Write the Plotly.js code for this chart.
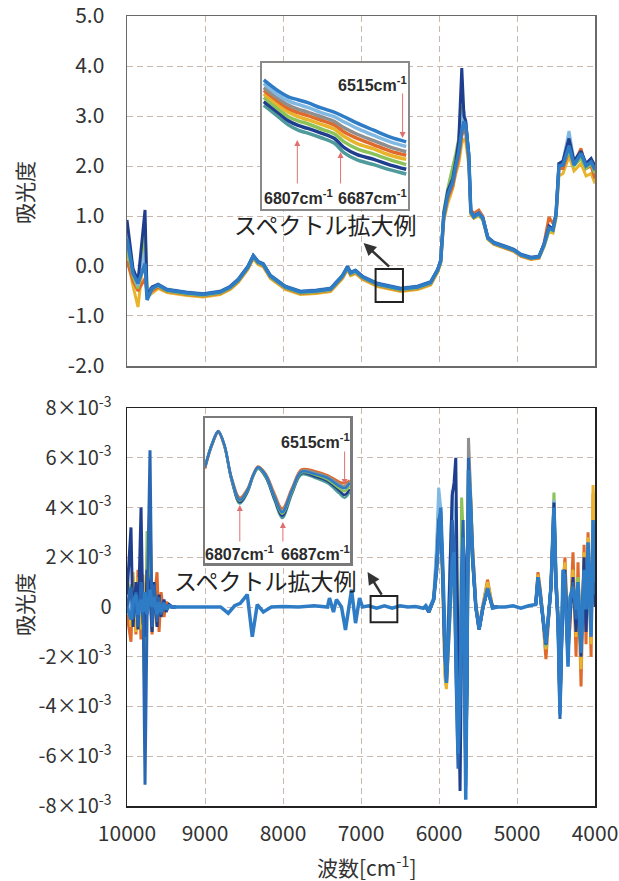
<!DOCTYPE html>
<html><head><meta charset="utf-8">
<script src="https://cdn.plot.ly/plotly-3.0.1.min.js"></script>
<style>html,body{margin:0;padding:0;background:#fff;} #chart{width:619px;height:881px;}</style>
</head><body><div id="chart"></div>
<script>
// ---------- TOP: absorbance spectra ----------
const X_TOP = [10000, 9923, 9859, 9769, 9743, 9679, 9602, 9486, 9229, 9023,
  8805, 8676, 8574, 8450, 8381, 8320, 8252, 8162, 7970, 7777,
  7580, 7391, 7353, 7237, 7173, 7134, 7070, 6980, 6788, 6492,
  6273, 6107, 6068, 6017, 5978, 5939, 5888, 5824, 5785, 5747,
  5708, 5680, 5657, 5618, 5592, 5554, 5490, 5438, 5374, 5297,
  5040, 4950, 4821, 4719, 4654, 4590, 4539, 4500, 4462, 4410,
  4333, 4269, 4179, 4115, 4050, 4000];
const TOP_BLUE = [0.55, -0.15, -0.35, 0.05, -0.68, -0.45, -0.38, -0.48, -0.54, -0.57,
  -0.52, -0.42, -0.28, -0.02, 0.20, 0.08, 0.03, -0.20, -0.42, -0.52,
  -0.50, -0.46, -0.40, -0.20, -0.02, -0.14, -0.10, -0.22, -0.36, -0.46,
  -0.42, -0.33, -0.22, -0.08, 0.10, 1.00, 1.42, 1.68, 2.00, 2.28,
  2.70, 2.90, 2.80, 2.20, 1.08, 0.98, 1.05, 0.95, 0.56, 0.46,
  0.32, 0.22, 0.16, 0.18, 0.42, 0.76, 0.72, 1.02, 2.00, 2.02,
  2.40, 2.02, 2.25, 2.00, 2.08, 1.92];
const TOP_NAVY = [0.92, -0.05, -0.30, 1.12, -0.60, -0.42, -0.37, -0.47, -0.53, -0.56,
  -0.51, -0.41, -0.27, -0.01, 0.21, 0.09, 0.04, -0.19, -0.41, -0.51,
  -0.49, -0.45, -0.39, -0.19, -0.01, -0.13, -0.09, -0.21, -0.35, -0.45,
  -0.41, -0.32, -0.21, -0.07, 0.12, 1.05, 1.50, 1.75, 2.10, 2.50,
  3.96, 3.00, 2.90, 2.25, 1.10, 1.00, 1.06, 0.96, 0.57, 0.47,
  0.33, 0.23, 0.17, 0.19, 0.44, 0.80, 0.74, 1.05, 2.05, 2.10,
  2.55, 2.10, 2.30, 2.05, 2.15, 2.00];
const TOP_ORANGE = [0.10, -0.30, -0.50, -0.25, -0.55, -0.50, -0.42, -0.51, -0.57, -0.60,
  -0.55, -0.45, -0.31, -0.05, 0.17, 0.05, 0.00, -0.23, -0.45, -0.55,
  -0.53, -0.49, -0.43, -0.23, -0.05, -0.17, -0.13, -0.25, -0.39, -0.49,
  -0.45, -0.36, -0.25, -0.11, 0.07, 0.95, 1.35, 1.60, 1.90, 2.15,
  2.60, 2.75, 2.65, 2.10, 1.12, 1.05, 1.12, 1.00, 0.55, 0.44,
  0.30, 0.20, 0.14, 0.16, 0.45, 0.98, 0.85, 1.00, 1.95, 1.95,
  2.30, 2.05, 2.35, 1.95, 2.00, 1.75];
const TOP_YELLOW = [0.20, -0.40, -0.82, 0.45, -0.62, -0.55, -0.45, -0.53, -0.59, -0.62,
  -0.57, -0.47, -0.33, -0.07, 0.15, 0.03, -0.02, -0.25, -0.47, -0.57,
  -0.55, -0.51, -0.45, -0.25, -0.07, -0.19, -0.15, -0.27, -0.41, -0.51,
  -0.47, -0.38, -0.27, -0.13, 0.05, 0.90, 1.25, 1.55, 1.85, 2.05,
  2.45, 2.55, 2.50, 2.00, 1.02, 0.95, 1.00, 0.92, 0.53, 0.43,
  0.29, 0.19, 0.13, 0.15, 0.38, 0.70, 0.66, 0.95, 1.80, 1.85,
  2.20, 1.90, 2.05, 1.80, 1.85, 1.65];
const TOP_GREEN = [0.35, -0.20, -0.45, 0.80, -0.45, -0.46, -0.40, -0.50, -0.56, -0.59,
  -0.54, -0.44, -0.30, -0.04, 0.18, 0.06, 0.01, -0.22, -0.44, -0.54,
  -0.52, -0.48, -0.42, -0.22, -0.04, -0.16, -0.12, -0.24, -0.38, -0.48,
  -0.44, -0.35, -0.24, -0.10, 0.08, 1.10, 1.55, 1.95, 2.25, 2.55,
  3.20, 2.95, 2.85, 2.20, 1.05, 0.97, 1.03, 0.93, 0.54, 0.45,
  0.31, 0.21, 0.15, 0.17, 0.40, 0.72, 0.70, 1.00, 2.05, 2.05,
  2.30, 2.00, 2.15, 1.95, 2.05, 1.85];
const TOP_LIGHT = [0.70, -0.10, -0.40, 0.30, -0.50, -0.44, -0.36, -0.46, -0.52, -0.55,
  -0.50, -0.40, -0.26, 0.00, 0.22, 0.10, 0.05, -0.18, -0.40, -0.50,
  -0.48, -0.44, -0.38, -0.18, 0.00, -0.12, -0.08, -0.20, -0.34, -0.44,
  -0.40, -0.31, -0.20, -0.06, 0.12, 1.02, 1.45, 1.70, 2.02, 2.35,
  3.00, 3.10, 2.85, 2.25, 1.10, 1.00, 1.07, 0.97, 0.58, 0.48,
  0.34, 0.24, 0.18, 0.20, 0.43, 0.78, 0.74, 1.05, 2.05, 2.10,
  2.70, 2.10, 2.25, 2.05, 2.10, 1.95];

// ---------- TOP inset (6900-6500 cm-1) ----------
const XI1 = [6900, 6860, 6832, 6805, 6778, 6741, 6705, 6677, 6641, 6595, 6549, 6505];
const I1_BLUE   = [-0.329, -0.348, -0.358, -0.363, -0.368, -0.377, -0.384, -0.392, -0.403, -0.415, -0.427, -0.435];
const I1_LIGHT  = [-0.335, -0.355, -0.365, -0.371, -0.376, -0.385, -0.392, -0.401, -0.412, -0.424, -0.435, -0.443];
const I1_GRAY   = [-0.342, -0.361, -0.372, -0.379, -0.384, -0.392, -0.400, -0.411, -0.422, -0.433, -0.444, -0.452];
const I1_ORANGE = [-0.347, -0.366, -0.378, -0.385, -0.390, -0.398, -0.406, -0.418, -0.429, -0.440, -0.451, -0.458];
const I1_YELLOW = [-0.353, -0.372, -0.384, -0.392, -0.397, -0.405, -0.413, -0.426, -0.438, -0.447, -0.458, -0.465];
const I1_GREEN  = [-0.359, -0.379, -0.392, -0.399, -0.404, -0.413, -0.421, -0.435, -0.447, -0.456, -0.466, -0.474];
const I1_NAVY   = [-0.366, -0.385, -0.399, -0.407, -0.412, -0.420, -0.429, -0.445, -0.457, -0.465, -0.475, -0.482];
const I1_TEAL   = [-0.372, -0.392, -0.406, -0.415, -0.420, -0.428, -0.437, -0.454, -0.466, -0.474, -0.483, -0.490];

// ---------- BOTTOM: 2nd-derivative spectra (units of 1e-3) ----------
const XB1 = [10000, 9949, 9923, 9885, 9859, 9820, 9795, 9769, 9743, 9705, 9679, 9653, 9615, 9589, 9563, 9525, 9499, 9460, 9420, 9370];
const XB_MID1 = [9200, 9000, 8800, 8702, 8620, 8548, 8458, 8394, 8330, 8252, 8150, 8000, 7800, 7600, 7430, 7404, 7353, 7315, 7250, 7199, 7160, 7121, 7070, 7019, 6980, 6900, 6800, 6700, 6600, 6500, 6400, 6300, 6200];
const XB2 = [6171, 6130, 6068, 6030, 6004, 5978, 5950, 5925, 5905, 5880, 5850, 5830, 5807, 5785, 5756, 5730, 5710, 5691, 5675, 5657, 5640, 5622, 5600, 5571, 5528, 5486, 5435, 5378, 5314, 5250];
const XB_MID2 = [5150, 5050, 4950, 4850];
const XB3 = [4760, 4731, 4705, 4680, 4629, 4595, 4564, 4526, 4500, 4474, 4449, 4410, 4385, 4346, 4320, 4282, 4243, 4218, 4179, 4140, 4115, 4089, 4050, 4025, 4000];

const BLUE_B1 = [0.0, -0.5, 0.2, 0.5, -0.3, 0.3, -0.2, 0.6, -0.3, 0.7, 0.0, 0.4, -0.3, 0.2, -0.2, 0.15, -0.1, 0.05, 0.0, 0.0];
const BLUE_MID1 = [0.0, 0.02, 0.0, -0.25, 0.05, 0.15, 0.5, -1.2, 0.1, -0.2, 0.0, 0.02, 0.0, 0.05, 0.0, 0.36, -0.2, 0.3, 0.0, -0.92, -0.2, 0.7, -0.65, 0.36, 0.0, 0.05, -0.05, 0.05, -0.05, 0.05, 0.0, 0.02, -0.05];
const BLUE_B2 = [0.05, -0.2, 0.3, 1.5, 3.0, 4.0, 1.5, -1.5, -3.05, -1.5, 0.5, 1.8, 2.2, -1.0, -5.9, -3.0, 1.0, 2.8, -2.0, -7.75, -2.0, 5.5, 4.5, 2.2, 0.0, -0.9, 0.0, 0.76, -0.05, 0.0];
const BLUE_MID2 = [0.0, 0.05, -0.05, 0.05];
const BLUE_B3 = [0.1, 1.2, 0.6, -0.1, -1.45, -0.3, 0.8, 4.0, 1.0, -0.5, -4.3, 1.5, 1.2, -2.4, 0.4, 0.8, -0.1, 1.0, -1.85, 1.5, -0.1, 2.6, -1.2, 3.5, 1.0];

const BLUE2_B1 = [0.0, 0.8, -0.5, 0.6, -0.8, 1.0, 0.5, -7.15, -0.4, 6.3, -0.8, 0.9, -0.6, 0.4, -0.3, 0.2, -0.1, 0.05, 0.0, 0.0];
const BLUE2_B2 = [0.0, -0.1, 0.3, 1.8, 3.5, 3.8, 1.0, -2.0, -3.0, -1.2, 1.0, 3.5, 2.5, -2.5, -6.5, -4.0, 1.5, 3.5, -3.0, -7.2, -2.5, 6.0, 4.0, 2.0, 0.0, -0.9, 0.0, 0.7, 0.0, 0.0];
const BLUE2_B3 = [0.1, 1.1, 0.5, -0.2, -1.5, -0.4, 0.9, 3.8, 0.8, -0.8, -4.5, 1.0, 0.5, -2.0, 0.0, 1.0, -0.5, 0.5, -1.0, 1.0, 0.5, 1.5, -0.5, 2.0, 0.5];

const NAVY_B1 = [0.5, 3.2, -0.8, 1.0, -0.9, 4.0, -0.6, -1.2, 1.5, 0.5, -1.0, 1.0, -0.8, 0.5, -0.4, 0.3, -0.2, 0.1, 0.0, 0.0];
const NAVY_B2 = [0.0, -0.2, 0.3, 1.5, 3.2, 3.5, 1.2, -1.8, -2.8, -1.0, 2.5, 4.5, 5.0, 6.0, -2.0, -7.4, -1.0, 2.8, 2.0, -6.5, -3.0, 5.0, 4.5, 2.0, 0.0, -0.9, 0.0, 0.7, 0.0, 0.0];
const NAVY_B3 = [0.1, 1.2, 0.6, -0.1, -1.5, -0.3, 0.8, 4.2, 0.8, -0.5, -4.0, 0.5, 1.5, -1.5, -0.5, 1.2, -1.0, 0.8, -2.0, 2.0, -1.0, 1.5, 0.0, 2.5, 0.0];

const ORANGE_B1 = [-0.3, -1.4, 1.2, -1.1, 1.5, -1.3, 1.0, -1.2, 2.0, 4.1, -1.1, 0.2, 1.4, -1.0, 0.6, -0.4, 0.2, 0.05, 0.0, 0.0];
const ORANGE_B2 = [0.05, -0.2, 0.35, 2.0, 4.0, 3.5, 0.8, -2.5, -3.2, -1.5, 0.5, 2.0, 1.5, -1.0, -4.5, -2.5, 1.5, 2.0, -1.5, -6.0, -2.0, 5.5, 4.8, 2.5, 0.1, -0.8, 0.1, 1.1, 0.0, 0.0];
const ORANGE_B3 = [0.15, 1.4, 0.8, 0.0, -2.1, -0.6, 0.9, 3.8, 1.2, -0.3, -3.8, 0.8, 2.0, -1.5, -0.8, 2.2, -2.0, 1.8, -3.2, 2.5, -1.5, 3.0, -2.0, 4.5, 4.5];

const YELLOW_B1 = [1.5, -0.8, 1.4, -1.0, 1.2, -0.9, 1.3, -1.0, 0.8, 1.5, -0.6, 1.0, -0.7, 0.4, -0.3, 0.2, -0.1, 0.0, 0.0, 0.0];
const YELLOW_B2 = [0.05, -0.2, 0.35, 2.2, 4.1, 3.3, 0.5, -2.8, -3.3, -1.8, 0.3, 1.5, 1.0, -1.5, -5.0, -3.0, 1.2, 2.5, -1.0, -6.5, -1.5, 6.0, 5.0, 2.5, 0.1, -0.8, 0.1, 1.0, 0.0, 0.0];
const YELLOW_B3 = [0.15, 1.3, 0.7, 0.0, -1.7, -0.4, 0.8, 3.5, 1.0, -0.5, -3.5, 1.0, 1.8, -1.2, 0.0, 1.5, -1.2, 1.2, -2.5, 2.2, -0.5, 2.8, -1.5, 4.9, 3.0];

const GREEN_B1 = [0.3, 0.9, -0.6, 0.8, -0.5, 1.2, -0.5, -3.9, 3.0, 3.0, -0.9, 0.6, -0.5, 0.3, -0.2, 0.1, 0.0, 0.0, 0.0, 0.0];
const GREEN_B2 = [0.0, -0.2, 0.3, 1.8, 3.8, 3.8, 1.2, -1.8, -2.8, -1.0, 1.5, 3.0, 3.5, 0.0, -5.9, -3.5, 4.4, 3.0, -1.5, -6.8, -3.0, 4.5, 3.5, 1.8, 0.0, -0.9, 0.0, 0.7, 0.0, 0.0];
const GREEN_B3 = [0.1, 1.2, 0.6, -0.1, -1.6, -0.4, 1.0, 4.6, 1.2, -0.5, -4.0, 1.2, 1.0, -2.0, 0.2, 0.6, -0.5, 1.2, -1.2, 1.2, 0.0, 2.0, -0.8, 3.0, 1.5];

const LIGHT_B1 = [0.6, -0.3, 0.5, -0.4, 0.6, -0.3, 0.4, -0.8, 0.9, 1.2, -0.4, 0.3, -0.2, 0.1, 0.0, 0.0, 0.0, 0.0, 0.0, 0.0];
const LIGHT_B2 = [0.1, -0.1, 0.4, 2.5, 4.8, 4.0, 1.0, -2.0, -3.0, -0.5, 2.5, 4.7, 3.5, -1.0, -4.5, -3.0, 2.0, 3.0, -2.5, -7.0, -2.0, 5.5, 4.5, 2.0, 0.0, -0.9, 0.0, 0.7, 0.0, 0.0];
const LIGHT_B3 = [0.1, 1.1, 0.5, -0.2, -1.4, -0.3, 0.8, 4.3, 1.1, -0.6, -4.1, 1.4, 1.0, -2.2, 0.3, 0.6, -0.3, 0.9, -1.5, 1.4, 0.0, 2.2, -1.0, 3.2, 1.2];

const GRAY_B1 = [0.2, 0.4, -0.4, 0.5, -0.5, 0.6, -0.3, -0.5, 0.7, 0.9, -0.5, 0.4, -0.3, 0.2, -0.1, 0.1, 0.0, 0.0, 0.0, 0.0];
const GRAY_B2 = [0.0, -0.2, 0.3, 1.6, 3.4, 3.6, 1.0, -2.0, -2.9, -1.2, 1.2, 4.0, 3.0, -1.0, -4.3, -5.5, 0.5, 3.0, -2.5, -6.5, -2.5, 6.8, 5.0, 2.2, 0.0, -0.9, 0.0, 0.7, 0.0, 0.0];
const GRAY_B3 = [0.1, 1.1, 0.6, -0.1, -1.5, -0.3, 0.8, 3.9, 1.0, -0.5, -4.2, 1.2, 1.1, -2.2, 0.3, 0.7, -0.2, 0.9, -1.6, 1.3, -0.2, 2.3, -1.0, 3.0, 1.0];

// ---------- BOTTOM inset (units of 1e-4) ----------
const XI2 = [6904, 6885, 6867, 6850, 6830, 6807, 6785, 6770, 6756, 6735, 6710, 6689, 6662, 6635, 6600, 6562, 6530, 6515, 6501];
const I2_BLUE   = [0.32, 0.63, 0.81, 0.63, 0.17, -0.13, 0.01, 0.21, 0.32, 0.21, -0.09, -0.30, 0.00, 0.26, 0.23, 0.17, 0.06, 0.03, 0.10];
const I2_ORANGE = [0.30, 0.62, 0.80, 0.62, 0.18, -0.10, 0.03, 0.22, 0.33, 0.23, -0.05, -0.25, 0.03, 0.29, 0.27, 0.21, 0.12, 0.10, 0.14];
const I2_NAVY   = [0.33, 0.64, 0.82, 0.62, 0.15, -0.16, -0.01, 0.20, 0.31, 0.19, -0.12, -0.35, -0.03, 0.24, 0.20, 0.13, 0.00, -0.06, 0.02];
const I2_TEAL   = [0.31, 0.62, 0.80, 0.61, 0.14, -0.18, -0.02, 0.19, 0.30, 0.18, -0.14, -0.38, -0.05, 0.22, 0.18, 0.10, -0.04, -0.10, -0.02];
const I2_GRAY   = [0.32, 0.63, 0.81, 0.63, 0.16, -0.12, 0.02, 0.21, 0.32, 0.22, -0.08, -0.28, 0.01, 0.27, 0.25, 0.19, 0.09, 0.06, 0.12];
const I2_GREEN  = [0.32, 0.63, 0.81, 0.62, 0.16, -0.14, 0.00, 0.20, 0.31, 0.20, -0.10, -0.32, -0.02, 0.25, 0.22, 0.15, 0.03, -0.01, 0.06];

// ---------- ticks ----------
const X_TICKS = [10000, 9000, 8000, 7000, 6000, 5000, 4000];
const X_TICK_TEXT = ['10000', '9000', '8000', '7000', '6000', '5000', '4000'];
const Y1_TICKS = [-2, -1, 0, 1, 2, 3, 4, 5];
const Y1_TICK_TEXT = ['-2.0', '-1.0', '0.0', '1.0', '2.0', '3.0', '4.0', '5.0'];
const Y2_TICKS = [-8, -6, -4, -2, 0, 2, 4, 6, 8];
const Y2_TICK_TEXT = ['-8×10<sup>-3</sup>', '-6×10<sup>-3</sup>', '-4×10<sup>-3</sup>', '-2×10<sup>-3</sup>', '0',
  '2×10<sup>-3</sup>', '4×10<sup>-3</sup>', '6×10<sup>-3</sup>', '8×10<sup>-3</sup>'];

// ---------- colours ----------
const C = {
  blue: '#2f7cc6', navy: '#1f3f8e', orange: '#df6a2c', yellow: '#e9b42c',
  green: '#8cc25a', light: '#82b9e2', gray: '#8f8f8f', blue2: '#2a67b2', teal: '#4f9a9a'
};

function tr(x, y, color, width, xa, ya, shape) {
  return {type: 'scatter', mode: 'lines', x: x, y: y, xaxis: xa, yaxis: ya,
    line: {color: color, width: width, shape: shape || 'linear'}, hoverinfo: 'skip', showlegend: false};
}

const traces = [];
// top main
[[TOP_YELLOW, C.yellow], [TOP_ORANGE, C.orange], [TOP_GREEN, C.green], [TOP_LIGHT, C.light], [TOP_NAVY, C.navy]]
  .forEach(s => traces.push(tr(X_TOP, s[0], s[1], 3, 'x', 'y')));
traces.push(tr(X_TOP, TOP_BLUE, C.blue, 3.5, 'x', 'y'));

// bottom main (secondary spectra drawn where they separate from the bundle)
const SEC = [
  [ORANGE_B1, ORANGE_B2, ORANGE_B3, C.orange],
  [YELLOW_B1, YELLOW_B2, YELLOW_B3, C.yellow],
  [GREEN_B1, GREEN_B2, GREEN_B3, C.green],
  [GRAY_B1, GRAY_B2, GRAY_B3, C.gray],
  [LIGHT_B1, LIGHT_B2, LIGHT_B3, C.light],
  [NAVY_B1, NAVY_B2, NAVY_B3, C.navy],
  [BLUE2_B1, BLUE2_B2, BLUE2_B3, C.blue2]
];
SEC.forEach(s => {
  traces.push(tr(XB1, s[0], s[3], 3, 'x2', 'y2'));
  traces.push(tr(XB2, s[1], s[3], 3, 'x2', 'y2'));
  traces.push(tr(XB3, s[2], s[3], 3, 'x2', 'y2'));
});
traces.push(tr(XB1.concat(XB_MID1, XB2, XB_MID2, XB3),
  BLUE_B1.concat(BLUE_MID1, BLUE_B2, BLUE_MID2, BLUE_B3), C.blue, 3.5, 'x2', 'y2'));

// top inset
[[I1_TEAL, C.teal], [I1_NAVY, C.navy], [I1_GREEN, C.green], [I1_YELLOW, C.yellow],
 [I1_ORANGE, C.orange], [I1_GRAY, C.gray], [I1_LIGHT, C.light], [I1_BLUE, C.blue]]
  .forEach(s => traces.push(tr(XI1, s[0], s[1], 3.5, 'x3', 'y3', 'spline')));
// bottom inset
[[I2_TEAL, C.teal], [I2_NAVY, C.navy], [I2_GREEN, C.green], [I2_ORANGE, C.orange],
 [I2_GRAY, C.gray], [I2_BLUE, C.blue]]
  .forEach(s => traces.push(tr(XI2, s[0], s[1], 2.5, 'x4', 'y4', 'spline')));

const FONT = '"Noto Sans CJK JP", "Noto Sans", sans-serif';
const GRID = '#c9b8ae';
const XDOM = [127 / 619, 595 / 619];
const base = {showgrid: true, gridcolor: GRID, gridwidth: 1, griddash: '6px,4px', zeroline: false,
  showline: true, mirror: true, ticks: '', automargin: false, ticklabeloverflow: 'allow'};

function px(v) { return v / 619; }
function py(v) { return 1 - v / 881; }

const insetAxis = {showgrid: false, zeroline: false, showticklabels: false, ticks: '', showline: true,
  mirror: true, automargin: false};

const layout = {
  width: 619, height: 881,
  margin: {l: 0, r: 0, t: 0, b: 0},
  paper_bgcolor: '#fff', plot_bgcolor: '#fff',
  font: {family: FONT, color: '#333'},
  showlegend: false,
  xaxis: Object.assign({}, base, {domain: XDOM, anchor: 'y', range: [10000, 4000], tickvals: X_TICKS,
    ticktext: X_TICK_TEXT, showticklabels: false, linecolor: '#6a6a6a', linewidth: 1.5}),
  yaxis: Object.assign({}, base, {domain: [py(366), py(16)], anchor: 'x', range: [-2.0005, 5.0005], tickvals: Y1_TICKS,
    ticktext: Y1_TICK_TEXT, linecolor: '#6a6a6a', linewidth: 1.5, ticklabelstandoff: 17,
    tickfont: {family: FONT, size: 21, color: '#333'}}),
  xaxis2: Object.assign({}, base, {domain: XDOM, anchor: 'y2', range: [10000, 4000], tickvals: X_TICKS,
    ticktext: X_TICK_TEXT, linecolor: '#222', linewidth: 1.5, ticklabelstandoff: 8,
    tickfont: {family: FONT, size: 21, color: '#333'}}),
  yaxis2: Object.assign({}, base, {domain: [py(806), py(408)], anchor: 'x2', range: [-8.002, 8.002], tickvals: Y2_TICKS,
    ticktext: Y2_TICK_TEXT, linecolor: '#222', linewidth: 1.5, ticklabelstandoff: 10,
    tickfont: {family: FONT, size: 20, color: '#333'}}),
  xaxis3: Object.assign({}, insetAxis, {domain: [px(262), px(408)], anchor: 'y3', range: [6905, 6500],
    linecolor: '#8a8a8a', linewidth: 2}),
  yaxis3: Object.assign({}, insetAxis, {domain: [py(209), py(63)], anchor: 'x3', range: [-0.55, -0.30],
    linecolor: '#8a8a8a', linewidth: 2}),
  xaxis4: Object.assign({}, insetAxis, {domain: [px(205), px(350)], anchor: 'y4', range: [6904, 6500],
    linecolor: '#7a7a7a', linewidth: 2.5}),
  yaxis4: Object.assign({}, insetAxis, {domain: [py(563), py(418)], anchor: 'x4', range: [-1, 1],
    linecolor: '#7a7a7a', linewidth: 2.5}),
  shapes: [
    {type: 'rect', xref: 'x', yref: 'y', x0: 6813, x1: 6462, y0: -0.72, y1: -0.06,
      line: {color: '#222', width: 2}, fillcolor: 'rgba(0,0,0,0)'},
    {type: 'rect', xref: 'x2', yref: 'y2', x0: 6877, x1: 6534, y0: -0.61, y1: 0.44,
      line: {color: '#222', width: 2}, fillcolor: 'rgba(0,0,0,0)'}
  ],
  annotations: []
};

const A = layout.annotations;
function txt(t, x, y, font, angle) {
  A.push({text: t, xref: 'paper', yref: 'paper', x: px(x), y: py(y), xanchor: 'center', yanchor: 'middle',
    textangle: angle || 0, showarrow: false, font: font});
}
const TF = {family: FONT, size: 21, color: '#333'};
// axis titles
txt('吸光度', 24, 193, TF, -90);
txt('吸光度', 24, 605, TF, -90);
txt('波数[cm<sup>-1</sup>]', 367, 866, TF);
// callouts
const CF = {family: FONT, size: 23, color: '#222'};
txt('スペクトル拡大例', 325, 224, CF);
txt('スペクトル拡大例', 265, 580, CF);
A.push({text: '', xref: 'x', yref: 'y', x: 6967, y: 0.46, axref: 'x', ayref: 'y', ax: 6620, ay: -0.04,
  showarrow: true, arrowhead: 2, arrowsize: 1, arrowwidth: 2.5, arrowcolor: '#333'});
A.push({text: '', xref: 'x2', yref: 'y2', x: 6916, y: 1.41, axref: 'x2', ayref: 'y2', ax: 6723, ay: 0.44,
  showarrow: true, arrowhead: 2, arrowsize: 1, arrowwidth: 2.5, arrowcolor: '#333'});
// inset labels
const LF = {family: '"Liberation Sans", Arial, sans-serif', size: 16, color: '#2b2b2b'};
function lab(t, x, y) { txt('<b>' + t + 'cm<sup>-1</sup></b>', x, y, LF); }
lab('6807', 298, 197); lab('6687', 372, 197); lab('6515', 372, 84);
lab('6807', 239, 553); lab('6687', 315, 553); lab('6515', 315, 441);
// red arrows in insets
function red(xa, wn, yHead, dy) {
  A.push({text: '', xref: xa, yref: 'paper', x: wn, y: py(yHead), ax: 0, ay: dy, showarrow: true,
    arrowhead: 2, arrowsize: 1.2, arrowwidth: 1, arrowcolor: '#e07070'});
}
red('x3', 6807, 140, 45); red('x3', 6687, 152, 33); red('x3', 6515, 138, -46);
red('x4', 6807, 505, 38); red('x4', 6687, 522, 21); red('x4', 6515, 485, -35);

Plotly.newPlot('chart', traces, layout, {displayModeBar: false, staticPlot: true});
</script></body></html>
